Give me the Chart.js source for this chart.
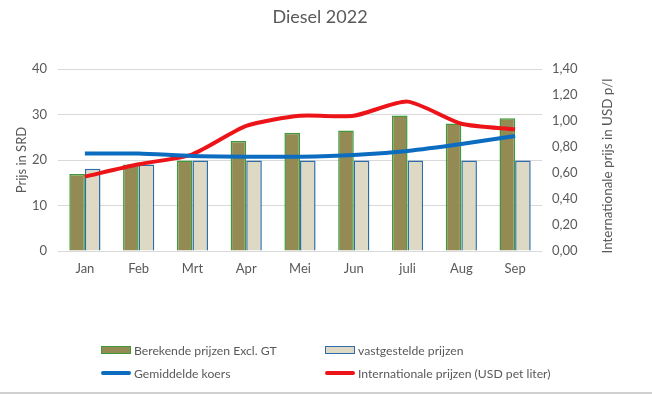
<!DOCTYPE html>
<html>
<head>
<meta charset="utf-8">
<script src="https://cdn.jsdelivr.net/npm/chart.js@4/dist/chart.umd.min.js"></script>
<style>
  html, body { margin: 0; padding: 0; background: #fff; }
  #wrap { position: relative; width: 652px; height: 394px; border-bottom: 2px solid #d0d0d0; box-sizing: border-box; }
  #legend { position: absolute; left: 0; top: 0; width: 652px; height: 394px; pointer-events: none;
            font-family: Lato, "Open Sans", sans-serif; font-size: 12.2px; color: #595959; }
  .item { position: absolute; display: flex; align-items: center; white-space: nowrap; }
  .sw { display: inline-block; margin-right: 3px; box-sizing: border-box; }
</style>
</head>
<body>
<div id="wrap">
  <canvas id="chart-diesel" width="652" height="392"></canvas>
  <div id="legend"></div>
</div>
<script>
var maanden = ["Jan", "Feb", "Mrt", "Apr", "Mei", "Jun", "juli", "Aug", "Sep"];
var berekend = [16.9, 19.0, 19.9, 24.2, 26.0, 26.5, 29.8, 28.0, 29.2];
var vastgesteld = [18.1, 19.0, 19.9, 19.9, 19.9, 19.9, 19.9, 19.9, 19.9];
var koers = [0.75, 0.75, 0.73, 0.725, 0.725, 0.738, 0.77, 0.823, 0.885];
var internationaal = [0.572, 0.667, 0.744, 0.962, 1.04, 1.04, 1.149, 0.979, 0.936];
var srdTicks = [0, 10, 20, 30, 40];
var usdTicks = ["0,00", "0,20", "0,40", "0,60", "0,80", "1,00", "1,20", "1,40"];

var tekstKleur = "#595959";
var fontNaam = "Lato";

// titel en rechter as titel zelf tekenen (Excel zet de titel iets links van het midden,
// en de rechter as titel leest van onder naar boven)
var eigenTeksten = {
  id: "eigenTeksten",
  afterDraw: function (chart) {
    var ctx = chart.ctx;
    ctx.save();
    ctx.fillStyle = tekstKleur;
    ctx.textAlign = "center";
    ctx.textBaseline = "middle";
    ctx.font = "18px " + fontNaam;
    ctx.fillText("Diesel 2022", 320, 17);
    ctx.translate(608, 166);
    ctx.rotate(-Math.PI / 2);
    ctx.font = "13.4px " + fontNaam;
    ctx.fillText("Internationale prijs in USD p/l", 0, 0);
    ctx.restore();
  },
};

var ctx1 = document.getElementById("chart-diesel").getContext("2d");
var chart1 = new Chart(ctx1, {
  type: "bar",
  data: {
    labels: maanden,
    datasets: [
      {
        label: "Berekende prijzen Excl. GT",
        data: berekend,
        backgroundColor: "#948A54",
        borderColor: "#3E9A3A",
        borderWidth: 1.5,
        categoryPercentage: 0.58,
        barPercentage: 1,
        yAxisID: "y",
        order: 2,
      },
      {
        label: "vastgestelde prijzen",
        data: vastgesteld,
        backgroundColor: "#DDD9C4",
        borderColor: "#2E6DA8",
        borderWidth: 1.5,
        categoryPercentage: 0.58,
        barPercentage: 1,
        yAxisID: "y",
        order: 2,
      },
      {
        type: "line",
        label: "Gemiddelde koers",
        data: koers,
        borderColor: "#0B6CC0",
        backgroundColor: "#0B6CC0",
        borderWidth: 4,
        pointRadius: 0,
        tension: 0.22,
        fill: false,
        yAxisID: "y1",
        order: 0,
      },
      {
        type: "line",
        label: "Internationale prijzen (USD pet liter)",
        data: internationaal,
        borderColor: "#EC1419",
        backgroundColor: "#EC1419",
        borderWidth: 4,
        pointRadius: 0,
        tension: 0.22,
        fill: false,
        yAxisID: "y1",
        order: 0,
      },
    ],
  },
  options: {
    responsive: false,
    animation: false,
    layout: { padding: { left: 0, right: 0, top: 69, bottom: 111 } },
    plugins: {
      legend: { display: false },
      tooltip: { enabled: false },
      title: { display: false },
    },
    scales: {
      x: {
        grid: { display: false, drawTicks: false },
        border: { display: false },
        ticks: { color: tekstKleur, padding: 10, font: { size: 13, family: fontNaam } },
        afterFit: function (scale) { scale.height = 30; },
      },
      y: {
        position: "left",
        min: 0,
        max: 40,
        afterBuildTicks: function (scale) {
          scale.ticks = srdTicks.map(function (v) { return { value: v }; });
        },
        grid: { color: "#D9D9D9", lineWidth: 1, drawTicks: false },
        border: { display: false },
        ticks: { color: tekstKleur, padding: 11, font: { size: 13, family: fontNaam } },
        title: {
          display: true,
          text: "Prijs in SRD",
          color: tekstKleur,
          font: { size: 13, family: fontNaam },
          padding: { top: 14, bottom: 0 },
        },
        afterFit: function (scale) { scale.width = 58; },
      },
      y1: {
        position: "right",
        min: 0,
        max: 1.4,
        afterBuildTicks: function (scale) {
          scale.ticks = usdTicks.map(function (t) { return { value: parseFloat(t.replace(",", ".")) }; });
        },
        grid: { display: false, drawTicks: false },
        border: { display: false },
        ticks: {
          color: tekstKleur,
          padding: 10,
          font: { size: 13, family: fontNaam },
          callback: function (value, index) { return usdTicks[index]; },
        },
        afterFit: function (scale) { scale.width = 110; },
      },
    },
  },
  plugins: [eigenTeksten],
});

// legenda in twee kolommen, opgebouwd uit de datasets
var legendaPlek = [
  { x: 101, y: 350 },
  { x: 325, y: 350 },
  { x: 101, y: 373 },
  { x: 325, y: 373 },
];
var legenda = document.getElementById("legend");
chart1.data.datasets.forEach(function (ds, i) {
  var item = document.createElement("div");
  item.className = "item";
  item.style.left = legendaPlek[i].x + "px";
  item.style.top = (legendaPlek[i].y - 9) + "px";
  item.style.height = "18px";
  var sw = document.createElement("span");
  sw.className = "sw";
  if (ds.type === "line") {
    sw.style.width = "30px";
    sw.style.height = "4px";
    sw.style.background = ds.borderColor;
    sw.style.borderRadius = "2px";
  } else {
    sw.style.width = "30px";
    sw.style.height = "8px";
    sw.style.background = ds.backgroundColor;
    sw.style.border = "1.5px solid " + ds.borderColor;
  }
  item.appendChild(sw);
  item.appendChild(document.createTextNode(ds.label));
  legenda.appendChild(item);
});
</script>
</body>
</html>
